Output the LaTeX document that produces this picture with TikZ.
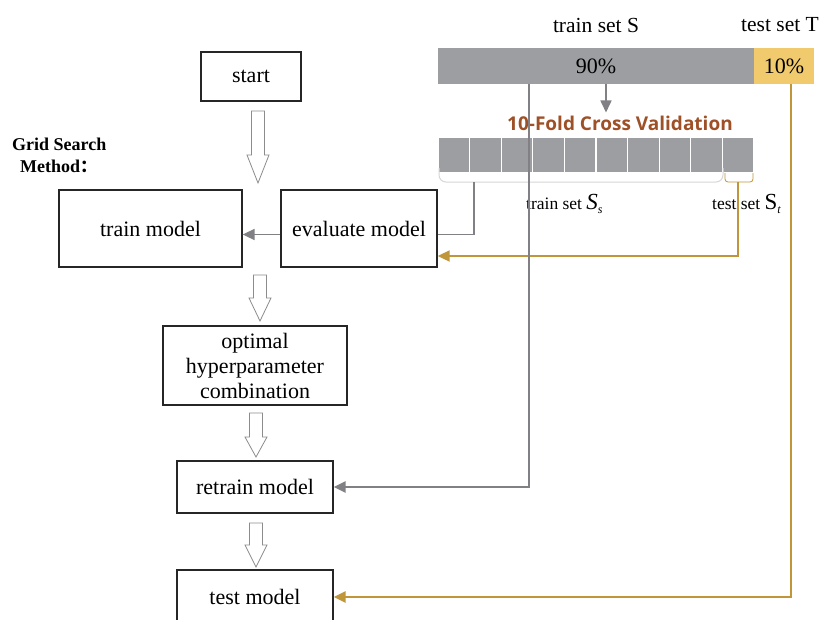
\documentclass[tikz,border=0pt]{standalone}
\usepackage{fontspec}
\setmainfont{Liberation Serif}
\newfontfamily\osans{Open Sans}
\newfontfamily\cjk{Noto Sans CJK SC}
\usetikzlibrary{arrows.meta}
\definecolor{bargray}{RGB}{157,158,162}
\definecolor{linegray}{RGB}{128,128,133}
\definecolor{barsand}{RGB}{242,202,110}
\definecolor{goldline}{RGB}{192,150,58}
\definecolor{titlebrown}{RGB}{158,80,38}
\definecolor{bracegray}{RGB}{215,215,215}
\newcommand\hollowarrow[4]{%
  \draw[hollow] (#1-6.5,#2) -- (#1+6.5,#2) -- (#1+6.5,#3) -- (#1+11,#3) -- (#1,#4)
    -- (#1-11,#3) -- (#1-6.5,#3) -- cycle;}
\begin{document}
\begin{tikzpicture}[x=1pt,y=-1pt,
  box/.style={draw=black!85, line width=1.3pt, fill=white, inner sep=0pt,
    font=\fontsize{22}{25}\selectfont, align=center},
  hollow/.style={draw=black!45, line width=0.8pt, fill=white},
  tip/.style={-{Triangle[length=12pt,width=11pt]}},
  gthin/.style={draw=linegray, line width=1.6pt},
  gthick/.style={draw=linegray, line width=2.6pt},
  gold/.style={draw=goldline, line width=2.4pt},
  lbl/.style={inner sep=0pt, font=\fontsize{21.5}{24}\selectfont},
  small/.style={inner sep=0pt, font=\fontsize{17.5}{20}\selectfont},
  cell/.style={fill=bargray, draw=white, line width=1.3pt, minimum width=31.6pt,
    minimum height=36pt, inner sep=0pt}
]
\useasboundingbox (0,0) rectangle (822,619);
\fill[white] (0,0) rectangle (822,619);

% top bar
\node[fill=bargray, minimum width=316pt, minimum height=36pt, inner sep=0pt,
  font=\fontsize{22}{24}\selectfont] (trainbar) at (596,66) {90\%};
\node[fill=barsand, minimum width=60pt, minimum height=36pt, inner sep=0pt,
  font=\fontsize{22}{24}\selectfont] (testbar) at (784,66) {10\%};
\node[lbl] (trainS) at (596,25) {train set S};
\node[lbl] (testT) at (780,25) {test set T};

% title
\node[inner sep=0pt, text=titlebrown, font=\osans\bfseries\fontsize{19}{22}\selectfont]
  (title) at (620,123) {10-Fold Cross Validation};
\draw[gthin, tip] ([xshift=10pt]trainbar.south) -- ([xshift=-14pt,yshift=3pt]title.north);

% folds
\foreach \i in {1,...,10}{
  \node[cell] (cell\i) at ({438+31.6*(\i-0.5)},155) {};
}
\draw[bracegray, line width=1pt, rounded corners=7pt] (439,168) -- (439,182) -- (723,182) -- (723,168);
\draw[goldline, line width=0.8pt, rounded corners=3pt] (725,173) -- (725,182) -- (753,182) -- (753,173);
\coordinate (bl) at (474,182);
\coordinate (gb) at (738,182);

\node[small, anchor=base west] (Ss) at (526,209)
  {train set \fontsize{23}{24}\selectfont\textit{S}\raisebox{-4pt}{\fontsize{12}{12}\selectfont\textit{s}}};
\node[small, anchor=base west] (St) at (712,209)
  {test set \fontsize{23}{24}\selectfont S\raisebox{-4pt}{\fontsize{12}{12}\selectfont\textit{t}}};

% grid search label
\node[inner sep=0pt, anchor=base west, font=\bfseries\fontsize{18}{20}\selectfont] (gs1) at (12,150) {Grid Search};
\node[inner sep=0pt, anchor=base west, font=\bfseries\fontsize{18}{20}\selectfont] (gs2) at (20,172) {Method{\cjk\fontsize{17}{20}\selectfont ：}};

% boxes
\node[box, minimum width=100pt, minimum height=49pt] (start) at (251,76.5) {start};
\node[box, minimum width=183pt, minimum height=77pt] (train) at (150.5,228.5) {train model};
\node[box, minimum width=156pt, minimum height=77pt] (eval) at (359,228.5) {evaluate model};
\node[box, minimum width=184pt, minimum height=79pt, font=\fontsize{22}{25}\selectfont] (opt) at (255,365.5)
  {optimal\\hyperparameter\\combination};
\node[box, minimum width=156pt, minimum height=52pt] (retrain) at (255,487) {retrain model};
\node[box, minimum width=156pt, minimum height=54pt] (test) at (255,597) {test model};

% hollow arrows
\hollowarrow{258}{111}{155}{183}
\hollowarrow{260}{275}{298}{321}
\hollowarrow{256}{413}{437}{457}
\hollowarrow{256}{523}{545}{567}

% connectors
\draw[gthin] (bl) |- ([yshift=-6pt]eval.east);
\draw[gthin, tip] ([yshift=-6pt]eval.west) -- ([yshift=-6pt]train.east);
\draw[gold, line width=1.8pt, tip] (gb) |- ([yshift=-27.5pt]eval.east);
\coordinate (gtop) at (529,84);
\coordinate (otop) at (791,84);
\draw[gthick, tip] (gtop) |- (retrain.east);
\draw[gold, tip] (otop) |- (test.east);
\end{tikzpicture}
\end{document}
